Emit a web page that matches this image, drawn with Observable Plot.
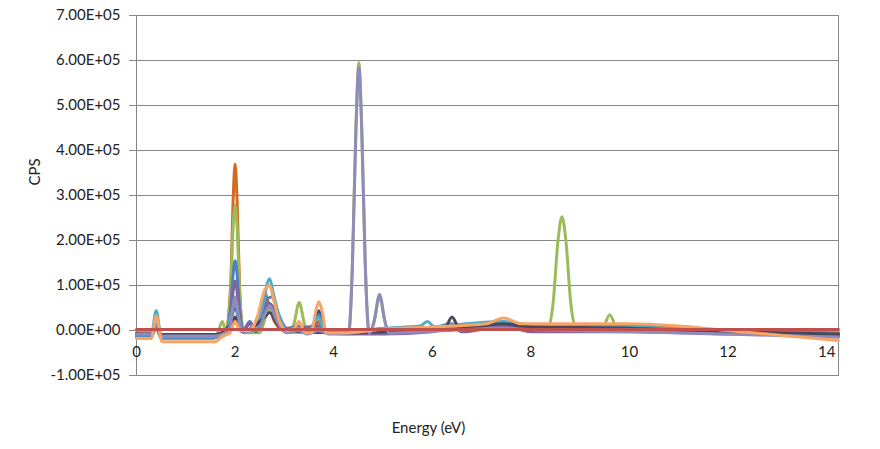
<!DOCTYPE html>
<html>
<head>
<meta charset="utf-8">
<script src="https://cdn.jsdelivr.net/npm/d3@7"></script>
<script src="https://cdn.jsdelivr.net/npm/@observablehq/plot@0.6"></script>
<style>
  html, body { margin: 0; padding: 0; background: #fff; }
  #chart svg { display: block; }
</style>
</head>
<body>
<div id="chart"></div>
<script>
// ---- Data (energy keV, CPS) ----
const xTicks = [0, 2, 4, 6, 8, 10, 12, 14];
const yTicks = [-100000, 0, 100000, 200000, 300000, 400000, 500000, 600000, 700000];

const greenSeries = [[0,-15000],[0.3,-15000],[0.4,5000],[0.5,-18000],[1.55,-18000],[1.65,-5000],[1.74,20000],[1.82,0],[1.91,90000],[1.96,230000],[2.0,278000],[2.04,230000],[2.09,90000],[2.18,-5000],[2.5,-5000],[2.62,30000],[2.72,45000],[2.85,25000],[3.05,-2000],[3.18,10000],[3.3,62000],[3.42,10000],[3.55,-5000],[3.7,5000],[3.85,-5000],[4.3,-6000],[4.38,150000],[4.45,450000],[4.51,595000],[4.57,450000],[4.64,150000],[4.72,-5000],[4.82,20000],[4.93,75000],[5.04,20000],[5.12,-5000],[6,0],[7.4,10000],[8,6000],[8.35,6000],[8.45,60000],[8.55,200000],[8.63,253000],[8.71,200000],[8.81,60000],[8.92,5000],[9.45,5000],[9.6,35000],[9.75,5000],[10.5,5000],[12,-5000],[13,-8000],[14.24,-12000]];
const darkBlueSeries = [[0,-9000],[0.3,-9000],[0.4,8000],[0.5,-11000],[1.6,-11000],[1.8,-6000],[1.93,30000],[2.0,55000],[2.07,25000],[2.15,-3000],[2.3,15000],[2.42,-2000],[2.6,40000],[2.7,60000],[2.8,40000],[2.95,10000],[3.1,-3000],[3.3,0],[3.55,0],[3.64,25000],[3.7,44000],[3.76,20000],[3.85,-3000],[4.3,-5000],[6,0],[6.4,12000],[6.6,0],[7.45,10000],[8,5000],[10,3000],[12,-5000],[14.24,-12000]];
const blueSeries = [[0,-12000],[0.3,-12000],[0.4,15000],[0.5,-16000],[1.6,-16000],[1.8,-10000],[1.91,50000],[1.96,125000],[2.0,155000],[2.04,125000],[2.09,50000],[2.16,0],[2.3,20000],[2.4,0],[2.55,35000],[2.65,70000],[2.75,75000],[2.85,45000],[3.05,5000],[3.3,10000],[3.5,0],[3.62,20000],[3.7,35000],[3.78,5000],[3.9,-5000],[4.3,-5000],[5,0],[6,5000],[6.4,15000],[6.6,5000],[7.45,18000],[8,10000],[10,8000],[12,-3000],[14.24,-10000]];
const purpleSeries = [[0,-10000],[0.3,-10000],[0.4,12000],[0.5,-13000],[1.6,-13000],[1.8,-8000],[1.92,50000],[1.97,95000],[2.0,110000],[2.03,95000],[2.09,40000],[2.16,-3000],[2.3,18000],[2.4,0],[2.55,30000],[2.65,60000],[2.75,55000],[2.9,25000],[3.05,0],[3.3,5000],[3.7,10000],[3.9,-5000],[4.3,-8000],[5,-8000],[6,-3000],[6.4,8000],[6.6,-3000],[7.45,10000],[8,-3000],[10,-3000],[12,-8000],[14.24,-10000]];
const aquaSeries = [[0,-10000],[0.3,-10000],[0.4,44000],[0.5,-14000],[1.6,-14000],[1.8,-8000],[1.93,40000],[2.0,60000],[2.07,30000],[2.15,-3000],[2.4,0],[2.55,50000],[2.7,115000],[2.78,80000],[2.9,30000],[3.05,0],[3.3,5000],[3.5,0],[3.62,20000],[3.7,30000],[3.78,5000],[3.9,-3000],[4.3,-3000],[5.0,5000],[5.75,10000],[5.9,20000],[6.05,8000],[6.4,12000],[7.45,20000],[8,12000],[10,8000],[12,0],[14.24,-8000]];
const darkGraySeries = [[0,-7000],[0.3,-7000],[0.4,10000],[0.5,-9000],[1.6,-9000],[1.95,20000],[2.0,30000],[2.06,10000],[2.15,-3000],[2.6,30000],[2.7,40000],[2.85,15000],[3.05,-3000],[4.3,-5000],[5.5,0],[6.25,5000],[6.4,30000],[6.55,5000],[7.45,15000],[8,8000],[10,5000],[12,-3000],[14.24,-8000]];
const darkOrangeSeries = [[0,-5000],[0.3,-5000],[0.4,10000],[0.5,-10000],[1.6,-10000],[1.8,-5000],[1.91,100000],[1.96,290000],[2.0,370000],[2.04,290000],[2.09,100000],[2.16,0],[2.4,0],[2.52,40000],[2.6,85000],[2.68,60000],[2.8,20000],[3.0,0],[3.3,5000],[3.6,0],[3.7,20000],[3.8,0],[4.3,-3000],[6,3000],[7.4,15000],[8,10000],[10,10000],[12,0],[14.24,-5000]];
const lavenderSeries = [[0,-8000],[0.3,-8000],[0.4,15000],[0.5,-12000],[1.6,-12000],[1.75,-8000],[1.9,10000],[1.96,55000],[2.0,75000],[2.04,55000],[2.12,0],[2.25,-3000],[2.35,10000],[2.45,0],[2.62,40000],[2.7,55000],[2.85,20000],[3.05,-5000],[3.3,0],[3.45,-8000],[3.7,0],[3.9,-8000],[4.3,-8000],[4.38,145000],[4.45,440000],[4.51,585000],[4.57,440000],[4.64,145000],[4.72,-6000],[4.82,20000],[4.93,80000],[5.04,20000],[5.12,-6000],[6,-2000],[7.4,5000],[8,2000],[10,-3000],[12,-8000],[14.24,-15000]];
const orangeSeries = [[0,-18000],[0.3,-18000],[0.4,33000],[0.52,-25000],[1.6,-25000],[1.75,-12000],[1.9,-5000],[2.0,20000],[2.1,0],[2.3,0],[2.45,30000],[2.6,90000],[2.7,100000],[2.78,70000],[2.9,20000],[3.05,0],[3.2,5000],[3.3,20000],[3.42,-5000],[3.55,-5000],[3.63,40000],[3.7,64000],[3.77,40000],[3.85,-5000],[4.3,-5000],[5,3000],[6,8000],[7.1,15000],[7.45,28000],[7.8,15000],[8.5,15000],[10,15000],[11,10000],[12,0],[13,-10000],[14.24,-22000]];
const redSeries = [[0,2000],[5,2000],[10,2000],[14.24,2000]];

const seriesList = [
  {data: darkOrangeSeries, color: "#D46A1F"},
  {data: greenSeries, color: "#9BBB59"},
  {data: darkBlueSeries, color: "#34508F"},
  {data: blueSeries, color: "#4F81BD"},
  {data: purpleSeries, color: "#8064A2"},
  {data: aquaSeries, color: "#4BACC6"},
  {data: darkGraySeries, color: "#4A4858"},
  {data: lavenderSeries, color: "#8F8CBB"},
  {data: orangeSeries, color: "#F9A465"},
  {data: redSeries, color: "#C0504D"}
];

const fmt = d => {
  if (d === 0) return "0.00E+00";
  const e = Math.floor(Math.log10(Math.abs(d)));
  const m = d / Math.pow(10, e);
  return m.toFixed(2) + "E" + (e < 0 ? "-" : "+") + String(Math.abs(e)).padStart(2, "0");
};

const lineMarks = seriesList.map(s => Plot.line(s.data, {
  x: d => d[0], y: d => d[1], stroke: s.color, strokeWidth: 3,
  curve: "monotone-x", strokeLinejoin: "round", strokeLinecap: "round"
}));

const chart = Plot.plot({
  width: 880,
  height: 449,
  marginLeft: 136,
  marginRight: 42,
  marginTop: 15,
  marginBottom: 74,
  style: {fontFamily: "Lato, 'Open Sans', sans-serif", fontSize: "15px", color: "#222", background: "#fff", overflow: "visible"},
  x: {domain: [0, 14.24], axis: null},
  y: {domain: [-100000, 700000]},
  marks: [
    Plot.gridY(yTicks, {stroke: "#868686", strokeOpacity: 1}),
    Plot.frame({stroke: "#868686"}),
    Plot.axisY(yTicks, {tickFormat: fmt, tickSize: 7, tickPadding: 9, stroke: "#868686", label: null, fill: "#222"}),
    ...lineMarks,
    Plot.text(xTicks, {x: d => d, y: () => 0, dy: 22, text: d => String(d), fill: "#222"}),
    Plot.text(["Energy (eV)"], {frameAnchor: "bottom", dx: -59, dy: 57, fill: "#222"}),
    Plot.text(["CPS"], {frameAnchor: "left", dx: -101, dy: -10, rotate: -90, fill: "#222"})
  ]
});
document.getElementById("chart").appendChild(chart);
</script>
</body>
</html>
